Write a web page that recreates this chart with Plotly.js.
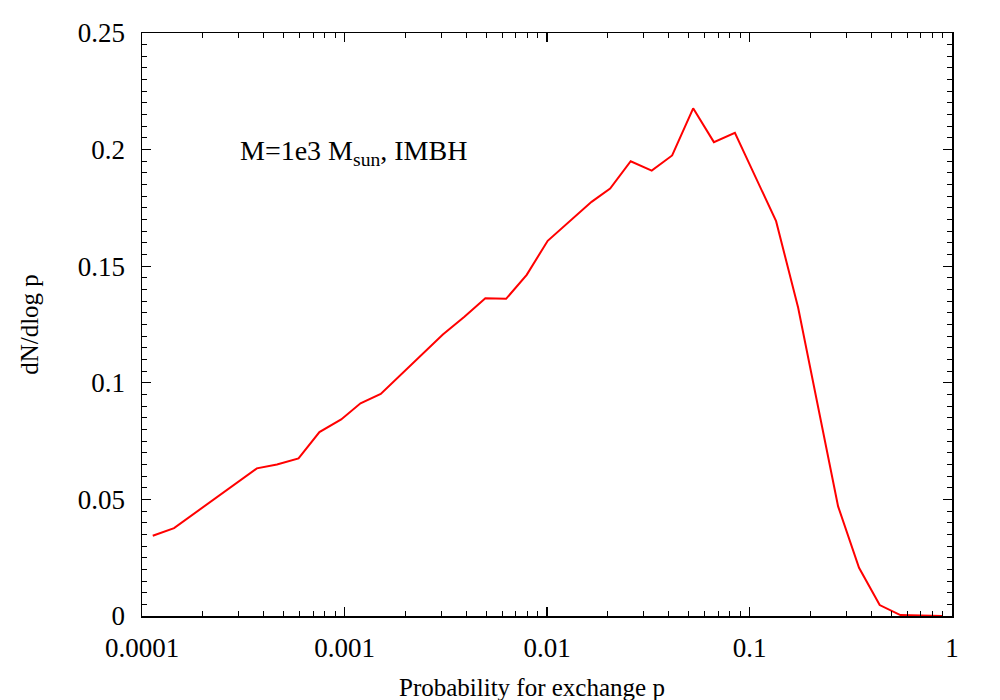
<!DOCTYPE html>
<html>
<head>
<meta charset="utf-8">
<script src="https://cdn.plot.ly/plotly-3.0.1.min.js"></script>
<style>html,body{margin:0;padding:0;background:#fff;}#chart{width:1000px;height:700px;}</style>
</head>
<body>
<div id="chart"></div>
<script>
// Probability for exchange p (x) and dN/dlog p (y)
const pValues = [1.13e-4, 1.44e-4, 3.69e-4, 4.64e-4, 5.93e-4, 7.52e-4, 9.63e-4, 1.20e-3, 1.51e-3,
  3.06e-3, 3.91e-3, 4.96e-3, 6.28e-3, 7.94e-3, 1.008e-2, 1.66e-2, 2.05e-2, 2.59e-2, 3.29e-2,
  4.15e-2, 5.27e-2, 6.67e-2, 8.47e-2, 0.1353, 0.1738, 0.2739, 0.3475, 0.4395, 0.5564, 0.8927];
const dNdlogp = [0.0344, 0.0377, 0.0633, 0.0650, 0.0676, 0.0789, 0.0843, 0.0912, 0.0952,
  0.1207, 0.1283, 0.1363, 0.1360, 0.1463, 0.1609, 0.1776, 0.1833, 0.1950, 0.1910,
  0.1975, 0.2177, 0.2032, 0.2072, 0.1693, 0.1323, 0.0470, 0.0207, 0.0047, 0.0004, 0.0];
const xTickVals = [1e-4, 1e-3, 1e-2, 1e-1, 1];
const xTickText = ['0.0001', '0.001', '0.01', '0.1', '1'];

const font = 'Liberation Serif, Times New Roman, serif';

const trace = {
  x: pValues, y: dNdlogp, type: 'scatter', mode: 'lines',
  line: {color: '#ff0000', width: 2}, showlegend: false, hoverinfo: 'skip'
};

const layout = {
  width: 1000, height: 700,
  margin: {l: 142, r: 48, t: 33, b: 84},
  paper_bgcolor: '#fff', plot_bgcolor: '#fff',
  font: {family: font, size: 27, color: '#000'},
  xaxis: {
    type: 'log', range: [-4, 0],
    tickvals: xTickVals, ticktext: xTickText,
    ticks: 'inside', ticklen: 9, tickwidth: 1.2, tickcolor: '#000',
    showline: true, linecolor: '#000', linewidth: 1.5, mirror: 'allticks',
    showgrid: false, zeroline: false,
    ticklabelstandoff: 7,
    minor: {ticks: 'inside', ticklen: 5, tickwidth: 1, tickcolor: '#000', dtick: 'D1', showgrid: false},
    tickfont: {family: font, size: 27}
  },
  yaxis: {
    range: [0, 0.25], dtick: 0.05,
    ticks: 'inside', ticklen: 9, tickwidth: 1.2, tickcolor: '#000',
    showline: true, linecolor: '#000', linewidth: 1.5, mirror: 'allticks',
    showgrid: false, zeroline: false,
    ticklabelstandoff: 10,
    minor: {ticks: 'inside', ticklen: 5, tickwidth: 1, tickcolor: '#000', dtick: 0.005, showgrid: false},
    tickfont: {family: font, size: 27},
    title: {text: 'dN/dlog p', font: {family: font, size: 25}, standoff: 32}
  },
  annotations: [
    {text: 'Probability for exchange p', xref: 'paper', yref: 'paper', x: 0.4815, y: -0.122,
     xanchor: 'center', yanchor: 'middle', showarrow: false, font: {family: font, size: 25}},
    {text: 'M=1e3 M<sub>sun</sub>, IMBH', xref: 'paper', yref: 'paper', x: (238 - 142) / 810.6, y: (616 - 152) / 583,
     xanchor: 'left', yanchor: 'middle', showarrow: false, font: {family: font, size: 28}}
  ]
};

Plotly.newPlot('chart', [trace], layout, {displayModeBar: false, staticPlot: true});
</script>
</body>
</html>
